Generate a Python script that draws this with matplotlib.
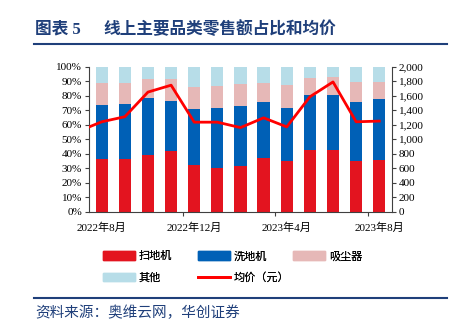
import numpy as np
import matplotlib.pyplot as plt
from matplotlib.patches import Patch
from matplotlib.lines import Line2D

# ------------------------------------------
# Data
# ------------------------------------------

months = ["2022年8月", "2022年9月", "2022年10月", "2022年11月", "2022年12月",
          "2023年1月", "2023年2月", "2023年3月", "2023年4月", "2023年5月",
          "2023年6月", "2023年7月", "2023年8月"]

sweeper = [36.3, 36.3, 39.3, 42.0, 32.2, 29.9, 31.5, 36.8, 35.2, 42.3, 42.5, 34.9, 35.6]
washer = [37.3, 38.0, 39.3, 34.5, 38.6, 41.8, 41.6, 39.1, 36.1, 38.2, 38.0, 41.0, 42.1]
vacuum = [15.4, 14.7, 12.9, 15.2, 15.4, 15.0, 14.9, 13.1, 16.1, 11.5, 12.6, 13.8, 12.0]
other = [11.0, 11.0, 8.5, 8.3, 13.8, 13.3, 12.0, 11.0, 12.6, 8.0, 6.9, 10.3, 10.3]

# average price (yuan); first value is 2022年7月, clipped by the axis
price_months = ["2022年7月"] + months
price = [1110, 1240, 1310, 1650, 1745, 1235, 1235, 1160, 1295, 1170, 1585, 1790, 1240, 1250]

tick_labels = ["2022年8月", "2022年12月", "2023年4月", "2023年8月"]

# ------------------------------------------
# Style
# ------------------------------------------

plt.rcParams['font.family'] = ['Liberation Serif', 'Noto Sans CJK SC']

C_SWEEP = "#E3141F"
C_WASH = "#0060B6"
C_VAC = "#E6B8B7"
C_OTHER = "#B7DDE8"
C_LINE = "#FF0000"
NAVY = "#1F3F7A"

fig = plt.figure(figsize=(4.58, 3.32), dpi=100)
ax = fig.add_axes([0.1943, 0.3623, 0.6616, 0.4368])

x = np.arange(len(months))
w = 0.53
s = np.array(sweeper)
wa = np.array(washer)
v = np.array(vacuum)
o = np.array(other)

ax.bar(x, s, w, color=C_SWEEP)
ax.bar(x, wa, w, bottom=s, color=C_WASH)
ax.bar(x, v, w, bottom=s + wa, color=C_VAC)
ax.bar(x, o, w, bottom=s + wa + v, color=C_OTHER)

ax.set_xlim(-0.55, 12.55)
ax.set_ylim(0, 100)
ax.set_yticks(np.arange(0, 101, 10))
ax.set_yticklabels([f"{t}%" for t in range(0, 101, 10)])

# tick marks at group boundaries, labels under bars
ax.set_xticks([3.5, 7.5, 11.5])
ax.set_xticklabels([])
ax.set_xticks([0, 4, 8, 12], minor=True)
ax.set_xticklabels(tick_labels, minor=True, fontsize=8)
ax.tick_params(axis="x", which="minor", length=0, pad=8)
ax.tick_params(axis="x", which="major", length=3, color="#404040")
ax.tick_params(axis="y", length=3, color="#404040", pad=2, labelsize=8)

for side in ["top", "right"]:
    ax.spines[side].set_visible(False)
ax.spines["left"].set_color("#404040")
ax.spines["bottom"].set_color("#404040")

ax2 = ax.twinx()
px = np.arange(len(price)) - 1
ax2.plot(px, price, color=C_LINE, lw=2, zorder=5)
ax2.set_ylim(0, 2000)
ax2.set_xlim(-0.55, 12.55)
ax2.set_yticks(np.arange(0, 2001, 200))
ax2.set_yticklabels([f"{t:,}" for t in range(0, 2001, 200)])
ax2.tick_params(axis="y", length=3, color="#404040", labelsize=8, pad=2)
for side in ["top", "left", "bottom"]:
    ax2.spines[side].set_visible(False)
ax2.spines["right"].set_color("#404040")

# ------------------------------------------
# Legend (placed entry by entry, row-major)
# ------------------------------------------

entries = [
    (Patch(color=C_SWEEP), "扫地机", 0.224, 0.228),
    (Patch(color=C_WASH), "洗地机", 0.432, 0.228),
    (Patch(color=C_VAC), "吸尘器", 0.640, 0.228),
    (Patch(color=C_OTHER), "其他", 0.224, 0.164),
    (Line2D([0], [0], color=C_LINE, lw=2), "均价（元）", 0.432, 0.164),
]
for h, lab, lx, ly in entries:
    leg = fig.legend([h], [lab], loc="center left", bbox_to_anchor=(lx, ly),
                     frameon=False, handlelength=2.9, handleheight=0.75,
                     handletextpad=0.3, borderpad=0, borderaxespad=0,
                     prop={'family': ['Noto Sans CJK SC'], 'size': 8})
    fig.add_artist(leg)

# ------------------------------------------
# Title and source
# ------------------------------------------

fig.text(0.077, 0.912, "图表 5", fontsize=12, fontweight="bold", color=NAVY, va="center")
fig.text(0.225, 0.912, "线上主要品类零售额占比和均价", fontsize=12,
         fontweight="bold", color=NAVY, va="center")
fig.add_artist(Line2D([0.074, 0.976], [0.867, 0.867], color=NAVY, lw=1.5))
fig.add_artist(Line2D([0.074, 0.976], [0.102, 0.102], color=NAVY, lw=1.5))
fig.text(0.077, 0.057, "资料来源：奥维云网，华创证券", fontsize=10.5, style="italic",
         color=NAVY, va="center", family=['Noto Sans CJK SC'])

fig.savefig("out.png", dpi=100)
